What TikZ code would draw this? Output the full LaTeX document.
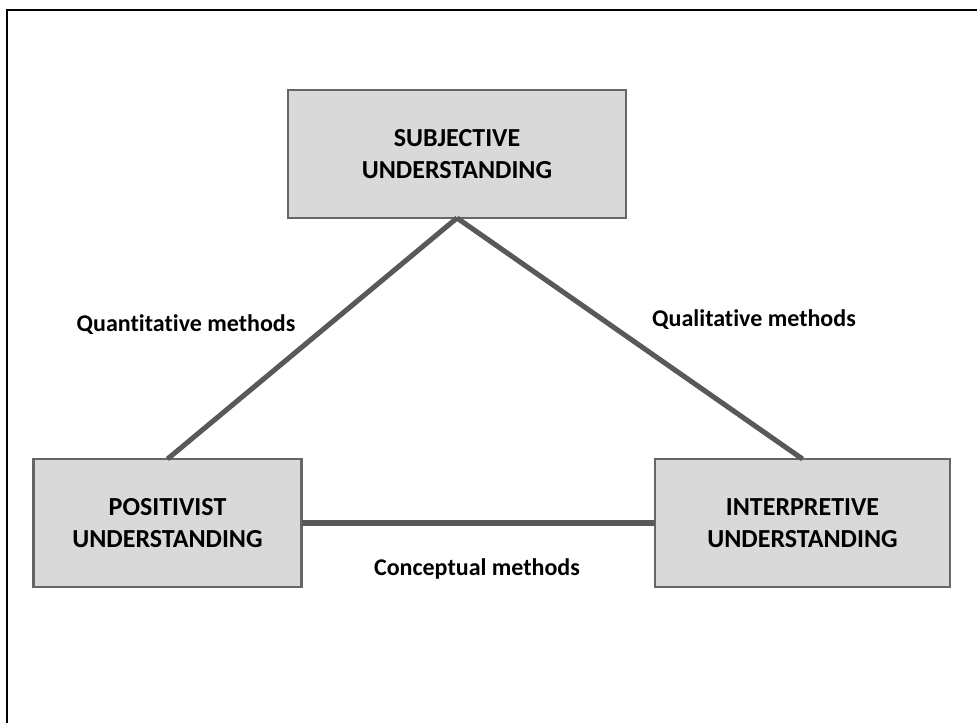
\documentclass[tikz,border=0pt]{standalone}
\usepackage{fontspec}
\setmainfont[Ligatures=NoCommon]{Carlito}
\usetikzlibrary{calc}
\definecolor{boxfill}{HTML}{D9D9D9}
\definecolor{boxline}{HTML}{666666}
\definecolor{linkcolor}{HTML}{595959}

\begin{document}
\begin{tikzpicture}[x=0.75pt,y=-0.75pt,line join=miter,
    box/.style={draw=boxline,fill=boxfill,line width=1.9pt,minimum height=96pt,inner sep=0pt,outer sep=0pt,
      align=center,font=\fontsize{19.5}{24}\selectfont\bfseries},
    link/.style={draw=linkcolor,line width=3.8pt},
    lbl/.style={font=\fontsize{18}{22}\selectfont\bfseries,inner sep=0pt}]
  \useasboundingbox (0,0) rectangle (977,723);
  \draw[line width=1.6pt] (7,723) |- (977,10);
  % the three understandings
  \node[box,minimum width=253.5pt] (subj) at (457,154) {SUBJECTIVE\\UNDERSTANDING};
  \node[box,minimum width=201pt] (posit) at (167.5,523) {POSITIVIST\\UNDERSTANDING};
  \node[box,minimum width=221.25pt] (interp) at (802.5,523) {INTERPRETIVE\\UNDERSTANDING};
  \path[link] (subj.south) -- (posit.north);
  \path[link] (subj.south) -- (interp.north);
  \path[link] (posit.east) -- (interp.west);
  % methods
  \node[lbl] (qnt) at (186,325) {Quantitative methods};
  \node[lbl] (qlt) at (754,320) {Qualitative methods};
  \node[lbl] (cpt) at (477,569) {Conceptual methods};
\end{tikzpicture}
\end{document}
